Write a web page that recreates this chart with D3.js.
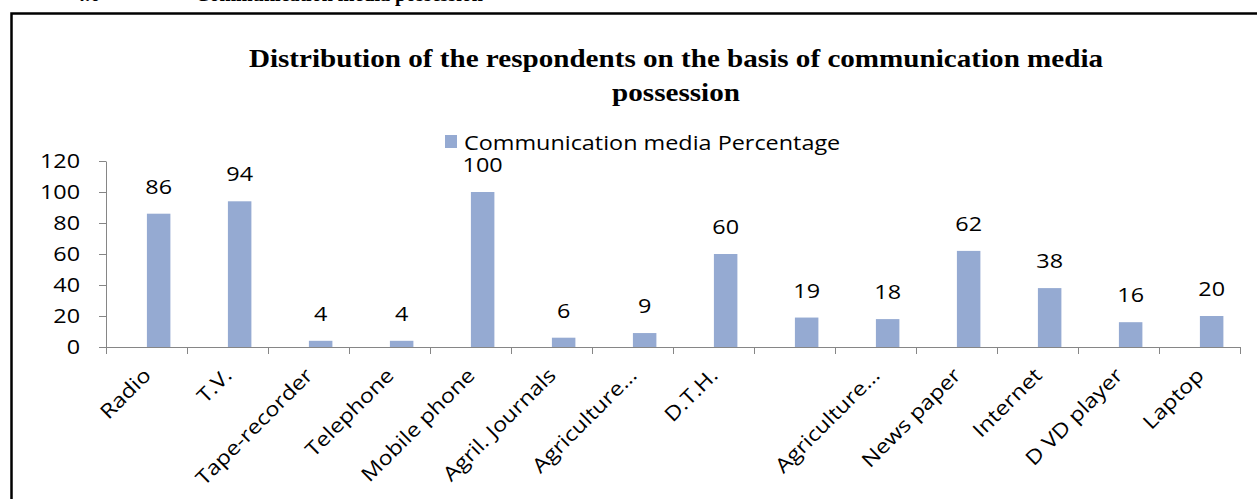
<!DOCTYPE html>
<html>
<head>
<meta charset="utf-8">
<script src="https://cdn.jsdelivr.net/npm/d3@7"></script>
<style>
  body { margin: 0; background: #fff; }
  svg { display: block; }
</style>
</head>
<body>
<svg id="chart"></svg>
<script>
// Chart data
const categories = ['Radio', 'T.V.', 'Tape-recorder', 'Telephone', 'Mobile phone', 'Agril. Journals',
  'Agriculture…', 'D.T.H.', '', 'Agriculture…', 'News paper', 'Internet', 'D VD player', 'Laptop'];
const percentages = [86, 94, 4, 4, 100, 6, 9, 60, 19, 18, 62, 38, 16, 20];
const yTicks = [0, 20, 40, 60, 80, 100, 120];
const seriesName = 'Communication media Percentage';
const titleLines = ['Distribution of the respondents on the basis of communication media', 'possession'];

const width = 1257;
const height = 499;
const plot = { left: 106, right: 1240, top: 161, bottom: 347 };
const barColor = '#95aad2';
const axisColor = '#868686';
const labelFont = '"Open Sans", sans-serif';
const labelSize = 20;
// the reference text is wider than Open Sans, so stretch it a little
const stretch = 1.17;

const svg = d3.select('#chart')
  .attr('width', width)
  .attr('height', height);

// heading of the page above the chart, mostly cut off
svg.append('text')
  .attr('x', 75).attr('y', 1)
  .attr('font-family', '"Liberation Serif", serif')
  .attr('font-weight', 'bold').attr('font-size', 20)
  .text('4.6');
svg.append('text')
  .attr('x', 195).attr('y', 1)
  .attr('font-family', '"Liberation Serif", serif')
  .attr('font-weight', 'bold').attr('font-size', 20)
  .text('Communication media possession');

// frame around the chart
svg.append('path')
  .attr('d', `M11.5,${height} V13.5 H${width}`)
  .attr('fill', 'none')
  .attr('stroke', '#000')
  .attr('stroke-width', 2.5);

// title
svg.append('g')
  .selectAll('text')
  .data(titleLines)
  .join('text')
  .attr('transform', (d, i) => `translate(676, ${67 + i * 34}) scale(1.12, 1)`)
  .attr('text-anchor', 'middle')
  .attr('font-family', '"Liberation Serif", serif')
  .attr('font-weight', 'bold')
  .attr('font-size', 26)
  .text(d => d);

// legend
const legend = svg.append('g').attr('transform', 'translate(445, 135)');
legend.append('rect')
  .attr('width', 12).attr('height', 13)
  .attr('fill', barColor);
legend.append('text')
  .attr('transform', `translate(19, 15) scale(${stretch}, 1)`)
  .attr('font-family', labelFont).attr('font-size', labelSize)
  .attr('fill', '#000')
  .text(seriesName);

// scales
const xScale = d3.scaleBand()
  .domain(d3.range(categories.length))
  .range([plot.left, plot.right]);
const bw = xScale.bandwidth();

const yScale = d3.scaleLinear()
  .domain([0, 120])
  .range([plot.bottom, plot.top]);

// y axis
const yAxis = svg.append('g')
  .attr('transform', `translate(${plot.left}, 0)`)
  .call(d3.axisLeft(yScale).tickValues(yTicks).tickSize(7).tickSizeOuter(0).tickPadding(0));
yAxis.select('.domain').attr('stroke', axisColor);
yAxis.selectAll('.tick line').attr('stroke', axisColor);
yAxis.selectAll('.tick text')
  .attr('x', null)
  .attr('transform', `translate(-26, 0) scale(${stretch}, 1)`)
  .attr('font-family', labelFont).attr('font-size', labelSize).attr('fill', '#000');

// x axis: ticks sit on the category boundaries
const boundaryScale = d3.scaleLinear()
  .domain([0, categories.length])
  .range([plot.left, plot.right]);
const xAxis = svg.append('g')
  .attr('transform', `translate(0, ${plot.bottom})`)
  .call(d3.axisBottom(boundaryScale).tickValues(d3.range(categories.length + 1))
    .tickSize(7).tickSizeOuter(0).tickFormat(''));
xAxis.select('.domain').attr('stroke', axisColor);
xAxis.selectAll('.tick line').attr('stroke', axisColor);

// bars
svg.append('g')
  .selectAll('rect')
  .data(percentages)
  .join('rect')
  .attr('x', (d, i) => xScale(i) + bw * 0.505)
  .attr('y', d => yScale(d))
  .attr('width', bw * 0.29)
  .attr('height', d => yScale(0) - yScale(d))
  .attr('fill', barColor);

// value labels
svg.append('g')
  .selectAll('text')
  .data(percentages)
  .join('text')
  .attr('transform', (d, i) => `translate(${xScale(i) + bw * 0.65}, ${yScale(d) - 20}) scale(${stretch}, 1)`)
  .attr('text-anchor', 'middle')
  .attr('font-family', labelFont).attr('font-size', labelSize)
  .text(d => d);

// category labels at 45 degrees, stretched along the text
svg.append('g')
  .selectAll('text')
  .data(categories)
  .join('text')
  .attr('transform', (d, i) =>
    `translate(${xScale(i) + bw / 2 - 5}, ${plot.bottom + 19}) rotate(-45) scale(${stretch}, 1)`)
  .attr('dy', '0.75em')
  .attr('text-anchor', 'end')
  .attr('font-family', labelFont).attr('font-size', labelSize)
  .text(d => d);
</script>
</body>
</html>
